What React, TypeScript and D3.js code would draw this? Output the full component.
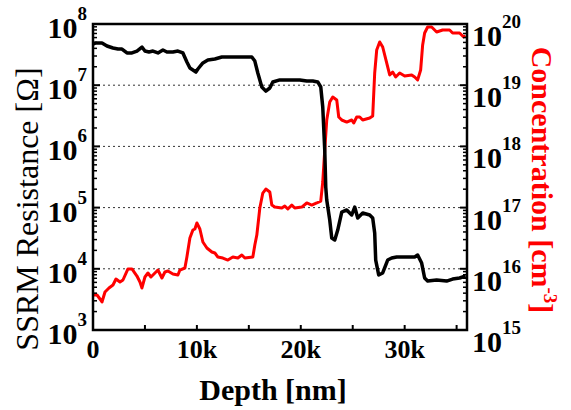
import React from 'react';
import { scaleLinear, scaleLog, line } from 'd3';

// SSRM resistance profile (depth in nm, resistance in ohm)
const depthR = [0, 288, 865, 1346, 1923, 2404, 2788, 3269, 3750, 4231, 4712, 5000, 5385, 5769, 6250, 6731, 7115, 7692, 8173, 8654, 9038, 9327, 9904, 10096, 10577, 11058, 11731, 12404, 13173, 13846, 14423, 15288, 15577, 15865, 16250, 16635, 17019, 17308, 17981, 18942, 19904, 20577, 21154, 21635, 21923, 22115, 22308, 22404, 22500, 22788, 22981, 23269, 23558, 23942, 24423, 24904, 25192, 25481, 25962, 26635, 26923, 27115, 27212, 27500, 27885, 28365, 28750, 29231, 30192, 30962, 31250, 31635, 31923, 32212, 33077, 34038, 34615, 35288, 35865];
const resistance = [4.71e7, 4.9e7, 4.9e7, 4.37e7, 4.05e7, 3.9e7, 3.9e7, 3.36e7, 3.36e7, 3.62e7, 4.2e7, 3.62e7, 3.49e7, 3.62e7, 3.36e7, 3.76e7, 3.49e7, 3.49e7, 3.62e7, 3.36e7, 2.39e7, 1.91e7, 1.64e7, 1.84e7, 2.31e7, 2.58e7, 2.68e7, 2.89e7, 2.89e7, 2.89e7, 2.89e7, 2.89e7, 2.48e7, 1.58e7, 9.35e6, 8.0e6, 9.0e6, 1.13e7, 1.22e7, 1.22e7, 1.22e7, 1.17e7, 1.17e7, 1.13e7, 9.35e6, 4.4e6, 8.7e5, 2.17e5, 1.33e5, 6.27e4, 3.18e4, 2.96e4, 4.3e4, 8.47e4, 9.14e4, 7.57e4, 1.02e5, 6.76e4, 8.16e4, 7.57e4, 6.76e4, 3.85e4, 1.39e4, 7.93e3, 8.54e3, 1.39e4, 1.5e4, 1.56e4, 1.56e4, 1.56e4, 1.68e4, 1.24e4, 7.08e3, 6.31e3, 6.56e3, 6.31e3, 6.8e3, 7.08e3, 7.62e3];

// dopant concentration profile (depth in nm, cm^-3)
const depthC = [0, 385, 673, 865, 1154, 1538, 1923, 2212, 2596, 2885, 3365, 3750, 4231, 4519, 4712, 5000, 5288, 5577, 5962, 6250, 6635, 6923, 7212, 7692, 8173, 8365, 8846, 9038, 9327, 9615, 9808, 10000, 10288, 10577, 10962, 11442, 11731, 12019, 12500, 12981, 13462, 13942, 14327, 14615, 15385, 15577, 15769, 16058, 16346, 16635, 17019, 17212, 17500, 18173, 18462, 18750, 19135, 19423, 20096, 20577, 21058, 21538, 21923, 22115, 22308, 22500, 22788, 23077, 23462, 23654, 23942, 24423, 24904, 25096, 25385, 25673, 25962, 26635, 26923, 27115, 27308, 27596, 27885, 28269, 28558, 28846, 29135, 29519, 30000, 30673, 30962, 31250, 31538, 31731, 31923, 32212, 32596, 33077, 33654, 34327, 34615, 35288, 35673, 35865];
const concentration = [3.73e15, 3.73e15, 3.21e15, 2.87e15, 4.18e15, 4.86e15, 5.44e15, 6.81e15, 6.08e15, 6.56e15, 9.93e15, 9.93e15, 7.62e15, 6.08e15, 4.86e15, 7.34e15, 8.54e15, 7.34e15, 8.54e15, 9.55e15, 7.08e15, 8.87e15, 9.2e15, 8.22e15, 7.93e15, 9.55e15, 1.03e16, 1.56e16, 3.18e16, 4.3e16, 4.47e16, 5.6e16, 4.47e16, 2.74e16, 2.19e16, 1.88e16, 1.81e16, 1.56e16, 1.5e16, 1.39e16, 1.56e16, 1.5e16, 1.68e16, 1.5e16, 1.56e16, 2.45e16, 3.56e16, 9.84e16, 1.73e17, 2.01e17, 1.8e17, 1.1e17, 1.02e17, 9.84e16, 1.06e17, 9.48e16, 1.1e17, 9.84e16, 1.02e17, 1.19e17, 1.1e17, 1.19e17, 1.28e17, 2.62e17, 8.73e17, 2.7e18, 5.31e18, 6.41e18, 5.73e18, 3.02e18, 2.7e18, 2.5e18, 2.7e18, 2.41e18, 3.02e18, 3.02e18, 2.7e18, 2.91e18, 3.14e18, 1.58e19, 3.76e19, 5.08e19, 4.21e19, 2.31e19, 1.47e19, 1.64e19, 1.36e19, 1.58e19, 1.41e19, 1.47e19, 1.36e19, 1.22e19, 1.77e19, 4.54e19, 7.13e19, 8.93e19, 8.93e19, 7.4e19, 7.98e19, 7.98e19, 7.13e19, 7.13e19, 6.14e19, 6.4e19];

const xTicks = [0, 10000, 20000, 30000];
const xTickLabels = ['0', '10k', '20k', '30k'];
const xMinorTicks = [5000, 15000, 25000, 35000];
const leftExps = [3, 4, 5, 6, 7, 8];
const rightExps = [15, 16, 17, 18, 19, 20];
const gridExps = [4, 5, 6, 7];

const FONT = '"Liberation Serif", "Times New Roman", serif';

const App = () => {
  const left = 93, right = 467, top = 24, bottom = 330;
  const x = scaleLinear().domain([0, 36000]).range([left, right]);
  const yR = scaleLog().domain([1e3, 1e8]).range([bottom, top]);
  const yC = scaleLog().domain([1e15, 1e20]).range([bottom, top]);

  const rLine = line<number>().x((d, i) => x(depthR[i])).y(d => yR(d));
  const cLine = line<number>().x((d, i) => x(depthC[i])).y(d => yC(d));

  // minor log ticks 2..9 in each decade
  const minorR: number[] = [];
  for (let e = 3; e < 8; e++) for (let m = 2; m < 10; m++) minorR.push(m * Math.pow(10, e));
  const minorC: number[] = [];
  for (let e = 15; e < 20; e++) for (let m = 2; m < 10; m++) minorC.push(m * Math.pow(10, e));

  return (
    <svg width={571} height={410} style={{ position: 'absolute', left: 0, top: 0 }} fontFamily={FONT}>
      <rect width={571} height={410} fill="white" />
      {/* dotted gridlines */}
      {gridExps.map(e => (
        <line key={e} x1={left} x2={right} y1={yR(Math.pow(10, e))} y2={yR(Math.pow(10, e))}
          stroke="#333" strokeWidth={1} strokeDasharray="2 3" />
      ))}

      {/* curves */}
      <path d={cLine(concentration) || ''} fill="none" stroke="#ff0000" strokeWidth={3} strokeLinejoin="round" />
      <path d={rLine(resistance) || ''} fill="none" stroke="#000" strokeWidth={3.5} strokeLinejoin="round" />

      {/* frame */}
      <rect x={left} y={top} width={right - left} height={bottom - top} fill="none" stroke="#000" strokeWidth={2.5} />

      {/* x ticks */}
      {xTicks.concat(xMinorTicks).map(t => (
        <line key={t} x1={x(t)} x2={x(t)} y1={bottom} y2={bottom - 5} stroke="#000" strokeWidth={2} />
      ))}
      {xTicks.map((t, i) => (
        <text key={t} x={x(t)} y={358} textAnchor="middle" fontSize={26} fontWeight="bold">{xTickLabels[i]}</text>
      ))}

      {/* left y ticks */}
      {leftExps.map(e => (
        <line key={e} x1={left} x2={left + 7} y1={yR(Math.pow(10, e))} y2={yR(Math.pow(10, e))} stroke="#000" strokeWidth={2} />
      ))}
      {minorR.map(v => (
        <line key={v} x1={left} x2={left + 4} y1={yR(v)} y2={yR(v)} stroke="#000" strokeWidth={1.5} />
      ))}
      {leftExps.map(e => (
        <text key={e} x={87} y={yR(Math.pow(10, e)) + 14} textAnchor="end" fontSize={30} fontWeight="bold">
          10<tspan dy={-18} fontSize={19}>{e}</tspan>
        </text>
      ))}

      {/* right y ticks */}
      {rightExps.map(e => (
        <line key={e} x1={right} x2={right - 7} y1={yC(Math.pow(10, e))} y2={yC(Math.pow(10, e))} stroke="#000" strokeWidth={2} />
      ))}
      {minorC.map(v => (
        <line key={v} x1={right} x2={right - 4} y1={yC(v)} y2={yC(v)} stroke="#000" strokeWidth={1.5} />
      ))}
      {rightExps.map(e => (
        <text key={e} x={472} y={yC(Math.pow(10, e)) + 22} fontSize={30} fontWeight="bold">
          10<tspan dy={-18} fontSize={19}>{e}</tspan>
        </text>
      ))}

      {/* axis titles */}
      <text x={273} y={400} textAnchor="middle" fontSize={30} fontWeight="bold">Depth [nm]</text>
      <text transform="translate(38,209) rotate(-90)" textAnchor="middle" fontSize={32}>SSRM Resistance [Ω]</text>
      <text transform="translate(532,180) rotate(90)" textAnchor="middle" fontSize={30} fontWeight="bold" fill="#ff0000">
        Concentration [cm<tspan dy={-12} fontSize={19}>-3</tspan><tspan dy={12}>]</tspan>
      </text>
    </svg>
  );
};

export default App;
